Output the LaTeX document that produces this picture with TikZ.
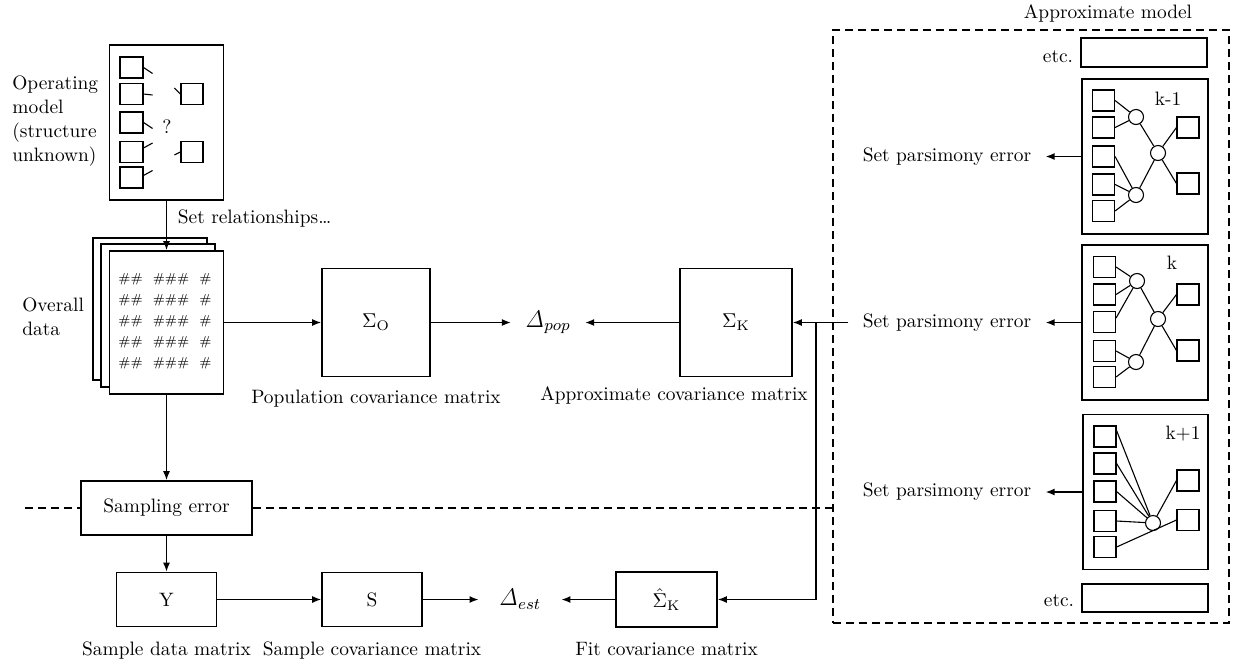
\documentclass[tikz,border=0pt]{standalone}
\usetikzlibrary{arrows.meta,positioning}
\begin{document}
\begin{tikzpicture}
			[x=0.5pt, y=-0.5pt, >={Latex[length=4.5pt,width=3.5pt]},
			font=\fontsize{9.7}{12}\selectfont,
			blk/.style={draw, line width=0.8pt, inner sep=0pt},
			box/.style={blk, minimum width=50pt, minimum height=27pt},
			mat/.style={blk, minimum width=56pt, minimum height=54pt},
			sq/.style={draw, line width=0.55pt, minimum width=11pt, minimum height=10.5pt, inner sep=0pt},
			nd/.style={draw, circle, line width=0.55pt, minimum size=7.5pt, inner sep=0pt},
			ln/.style={line width=0.55pt},
			arr/.style={line width=0.7pt},
			dlt/.style={font=\fontsize{11.5}{12}\selectfont},
			dsh/.style={dash pattern=on 4pt off 2.5pt, line width=0.6pt}]
			\useasboundingbox (0,0) rectangle (1234,665);
			\node[blk, minimum width=57pt, minimum height=77.5pt] (om) at (166.5,122.5) {};
			\foreach \i/\y in {1/67.5,2/94,3/122.5,4/152,5/177.5}
				\node[sq, minimum width=11.5pt] (o\i) at (131.5,\y) {};
			\node[sq] (oa) at (192,94) {};
			\node[sq] (ob) at (192,152) {};
			\draw[ln] (o1.east) -- ++(9,6);
			\draw[ln] (o2.east) -- ++(9,1);
			\draw[ln] (o3.east) -- ++(9,6);
			\draw[ln] (o4.east) ++(0,-4) -- ++(9,-5);
			\draw[ln] (o5.east) ++(0,-2) -- ++(9,-5);
			\draw[ln] (oa.west) -- ++(-6,-6);
			\draw[ln] (ob.west) -- ++(-6,3);
			\node (q) at (167,127) {?};
			\node[anchor=west, align=left, inner sep=0pt] (oml) at (12,121.5) {Operating\\model\\(structure\\unknown)};
			\draw[blk] (93,238) rectangle (207,380);
			\draw[blk, fill=white] (101,244) rectangle (215,387);
			\node[blk, fill=white, minimum width=57pt, minimum height=71.5pt] (od) at (166.5,322.5) {};
			\foreach \y in {279,300,321,342,363}
				\node[font=\fontsize{6.5}{8}\selectfont] (r\y) at (165,\y) {\#\#\hspace{5pt}\#\#\#\hspace{5pt}\#};
			\node[anchor=west, align=left, inner sep=0pt] (odl) at (22,316.5) {Overall\\data};
			\draw (om) edge[arr,->] node[right=2pt, pos=0.35] (sr) {Set relationships\ldots} (od);
			\node[mat, minimum width=54pt] (so) at (376,322.5) {$\Sigma_{\mathrm{O}}$};
			\node[below=3pt of so] (pcm) {Population covariance matrix};
			\node[dlt, inner xsep=7pt] (dp) at (548,322.5) {$\mathit{\Delta}_{pop}$};
			\node[mat] (sk) at (736,322.5) {$\Sigma_{\mathrm{K}}$};
			\node (acm) at (674,395) {Approximate covariance matrix};
			\draw (od) edge[arr,->] (so);
			\draw (so) edge[arr,->] (dp);
			\draw (sk) edge[arr,->] (dp);
			\node[blk, minimum width=85.5pt, minimum height=27pt] (se) at (166.5,508) {Sampling error};
			\draw (od) edge[arr,->] (se);
			\node[box] (ym) at (166.5,599.5) {Y};
			\node[below=3.5pt of ym] (sdm) {Sample data matrix};
			\draw (se) edge[arr,->] (ym);
			\node[box] (sm) at (372,599.5) {S};
			\node[below=3.5pt of sm] (scm) {Sample covariance matrix};
			\node[dlt, inner xsep=10pt] (de) at (520,599.5) {$\mathit{\Delta}_{est}$};
			\node[box, minimum width=50.5pt, minimum height=27.5pt] (sh) at (666.5,599.5) {$\hat{\Sigma}_{\mathrm{K}}$};
			\node[below=3.5pt of sh] (fcm) {Fit covariance matrix};
			\draw (ym) edge[arr,->] (sm);
			\draw (sm) edge[arr,->] (de);
			\draw (sh) edge[arr,->] (de);
			\node[draw, dsh, minimum width=198pt, minimum height=296.5pt, inner sep=0pt] (am) at (1031,326.5) {};
			\node (aml) at (1108,13) {Approximate model};
			\draw[dsh] (25,508) -- (se.west);
			\draw[dsh] (se.east) -- (se.east -| am.west);
			\node[blk, minimum width=63pt, minimum height=14.5pt] (e1) at (1144,52.5) {};
			\node (e1l) at (1058,57) {etc.};
			\node[blk, minimum width=63pt, minimum height=14pt] (e2) at (1145,598) {};
			\node (e2l) at (1059,601) {etc.};
			\node[blk, minimum width=63pt, minimum height=77.5pt] (p1) at (1145,156.5) {};
			\foreach \i/\y in {1/100.5,2/127.5,3/156.5,4/184.5,5/211}
				\node[sq] (a\i) at (1103.5,\y) {};
			\node[sq] (ar1) at (1188,127.5) {};
			\node[sq] (ar2) at (1188,183.5) {};
			\node[nd] (ac1) at (1136,117) {};
			\node[nd] (ac2) at (1158,153) {};
			\node[nd] (ac3) at (1136,195) {};
			\node (al) at (1168,99) {k-1};
			\draw[ln] (a1.east) -- (ac1) (a2.east) -- (ac1) (ac1) -- (ac2)
				(a3.east) -- (ac3) (a4.east) -- (ac3) (a5.east) -- (ac3)
				(ac3) -- (ac2) (ac2) -- (ar1.west) (ac2) -- (ar2.west);
			\node[blk, minimum width=63pt, minimum height=77.5pt] (p2) at (1145,322.5) {};
			\foreach \i/\y in {1/267,2/294.5,3/322,4/351,5/377}
				\node[sq] (b\i) at (1104.5,\y) {};
			\node[sq] (br1) at (1188,294.5) {};
			\node[sq] (br2) at (1188,350.5) {};
			\node[nd] (bc1) at (1137,281) {};
			\node[nd] (bc2) at (1158,319) {};
			\node[nd] (bc3) at (1136,362) {};
			\node (bl) at (1172,263) {k};
			\draw[ln] (b1.east) -- (bc1) (b2.east) -- (bc1) ([yshift=2pt]b3.east) -- (bc1) (bc1) -- (bc2)
				(b4.east) -- (bc3) (b5.east) -- (bc3)
				(bc3) -- (bc2) (bc2) -- (br1.west) (bc2) -- (br2.west);
			\node[blk, minimum width=62.5pt, minimum height=77.5pt] (p3) at (1145.5,492) {};
			\foreach \i/\y in {1/436.5,2/463.5,3/491.5,4/521,5/547}
				\node[sq] (c\i) at (1105,\y) {};
			\node[sq] (cr1) at (1188,480.5) {};
			\node[sq] (cr2) at (1188,520) {};
			\node[nd] (cc) at (1153,523) {};
			\node (cl) at (1183,434) {k+1};
			\draw[ln] ([yshift=3pt]c1.east) -- (cc) (c2.east) -- (cc) (c3.east) -- (cc) (c4.east) -- (cc)
				(cc) -- (cr1.west) (c5.east) -- (cr2.west);
			\node[inner xsep=7pt] (spe1) at (947,156.5) {Set parsimony error};
			\node[inner xsep=7pt] (spe2) at (947,322.5) {Set parsimony error};
			\node[inner xsep=7pt] (spe3) at (947,492) {Set parsimony error};
			\draw (p1) edge[arr,->] (spe1);
			\draw (p2) edge[arr,->] (spe2);
			\draw (p3) edge[arr,->] (spe3);
			\draw (spe2) edge[arr,->] (sk);
			\coordinate (jn) at (816,322.5);
			\draw[arr,->] (jn) |- (sh);
			\end{tikzpicture}
\end{document}
